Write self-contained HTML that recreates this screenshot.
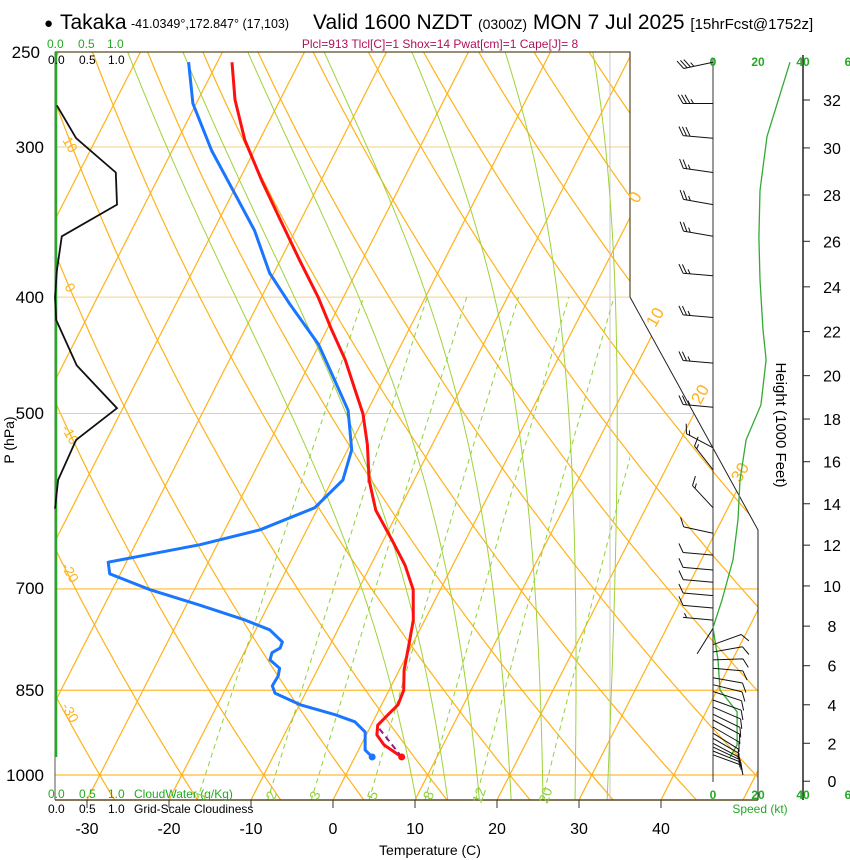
<!DOCTYPE html>
<html><head><meta charset="utf-8"><title>Skew-T Takaka</title>
<style>
html,body{margin:0;padding:0;background:#fff;}
svg{display:block;font-family:"Liberation Sans",Arial,sans-serif;}
</style></head>
<body>
<svg id="chart" width="850" height="860" viewBox="0 0 850 860" xmlns="http://www.w3.org/2000/svg">
  <defs>
    <clipPath id="plotClip"><polygon points="55,52 630,52 630,297 758,530 758,800 55,800"/></clipPath>
    <clipPath id="mainClip"><polygon points="55,52 630,52 630,297 630,800 55,800"/></clipPath>
  </defs>
  <g id="title">
    <text x="44" y="28" font-size="15">●</text>
    <text x="60" y="29" font-size="21">Takaka</text>
    <text x="131" y="28" font-size="12.5">-41.0349°,172.847° (17,103)</text>
    <text x="313" y="29" font-size="21">Valid 1600 NZDT <tspan font-size="14">(0300Z)</tspan> MON 7 Jul 2025 <tspan font-size="15">[15hrFcst@1752z]</tspan></text>
    <text x="440" y="48" font-size="12" fill="#b0125a" text-anchor="middle">Plcl=913 Tlcl[C]=1 Shox=14 Pwat[cm]=1 Cape[J]= 8</text>
  </g>
  <g id="bg"></g>
  <g id="lines" clip-path="url(#plotClip)"></g>
  <g id="mlines" clip-path="url(#mainClip)"></g>
  <g id="frame">
    <polyline points="55,52 630,52 630,297" fill="none" stroke="#5a4a20" stroke-width="1.2"/>
    <polyline points="630,297 758,530 758,800" fill="none" stroke="#222" stroke-width="1"/>
    <line x1="55" y1="800" x2="758" y2="800" stroke="#5a4a20" stroke-width="1.5"/>
    <line x1="55" y1="52" x2="55" y2="800" stroke="#555" stroke-width="1"/>
    <line x1="56" y1="52" x2="56" y2="757" stroke="#22aa22" stroke-width="2.5"/>
    <line x1="713" y1="58" x2="713" y2="782" stroke="#333" stroke-width="1"/>
    <line x1="803" y1="55" x2="803" y2="800" stroke="#222" stroke-width="1.5"/>
  </g>
  <g id="labels" font-size="16">
    <text x="40" y="58" text-anchor="end" font-size="17">250</text>
    <text x="44" y="153" text-anchor="end" font-size="17">300</text>
    <text x="44" y="303" text-anchor="end" font-size="17">400</text>
    <text x="44" y="419" text-anchor="end" font-size="17">500</text>
    <text x="44" y="594" text-anchor="end" font-size="17">700</text>
    <text x="44" y="696" text-anchor="end" font-size="17">850</text>
    <text x="44" y="781" text-anchor="end" font-size="17">1000</text>
    <text transform="translate(14,440) rotate(-90)" text-anchor="middle" font-size="14">P (hPa)</text>
    <text x="430" y="855" text-anchor="middle" font-size="14">Temperature (C)</text>
    <text transform="translate(776,425) rotate(90)" text-anchor="middle" font-size="15">Height (1000 Feet)</text>
    <g font-size="12" fill="#22aa22">
      <text x="47" y="48">0.0</text><text x="78" y="48">0.5</text><text x="107" y="48">1.0</text>
    </g>
    <g font-size="12" fill="#000">
      <text x="48" y="64">0.0</text><text x="79" y="64">0.5</text><text x="108" y="64">1.0</text>
    </g>
    <g font-size="12" fill="#22aa22">
      <text x="48" y="798">0.0</text><text x="79" y="798">0.5</text><text x="108" y="798">1.0</text><text x="134" y="798">CloudWater (g/Kg)</text>
    </g>
    <g font-size="12" fill="#000">
      <text x="48" y="813">0.0</text><text x="79" y="813">0.5</text><text x="108" y="813">1.0</text><text x="134" y="813">Grid-Scale Cloudiness</text>
    </g>
    <g font-size="12" font-weight="bold" fill="#22aa22" text-anchor="middle">
      <text x="713" y="66">0</text><text x="758" y="66">20</text><text x="803" y="66">40</text><text x="848" y="66">6</text>
    </g>
    <g font-size="12" font-weight="bold" fill="#22aa22" text-anchor="middle">
      <text x="713" y="799">0</text><text x="758" y="799">20</text><text x="803" y="799">40</text><text x="848" y="799">6</text>
    </g>
    <text x="760" y="813" font-size="12" fill="#22aa22" text-anchor="middle">Speed (kt)</text>
  </g>
  <g id="dyn"></g>
</svg>
<script>
// ---- data ----
const tempP = [255,274,296,320,345,373,400,426,451,478,500,531,568,602,637,669,701,743,779,818,850,874,891,909,926,944,966];
const tempC = [-58.2,-55.5,-51.8,-47.2,-42.5,-37.6,-33.1,-29.4,-25.9,-22.8,-20.4,-17.9,-15.5,-12.8,-9.0,-5.8,-3.3,-1.4,-0.4,0.6,1.8,2.0,1.4,0.8,1.3,2.8,5.7];
const dewP = [255,276,302,326,352,382,406,438,460,497,536,568,599,625,643,665,680,701,722,743,757,775,784,791,802,815,827,843,855,874,891,903,921,953,966];
const dewC = [-63.5,-60.4,-55.2,-50.1,-45.0,-40.5,-36.0,-30.1,-27.1,-22.4,-19.5,-18.7,-20.4,-25.7,-32.1,-42.2,-41.3,-35.4,-28.4,-21.9,-18.3,-16.0,-15.9,-16.6,-16.4,-14.7,-14.4,-14.5,-13.7,-9.9,-5.0,-2.2,-0.3,0.8,2.1];
const parcelP = [966,912];
const parcelC = [5.7,0.95];
const cloudP = [277,295,315,335,356,380,400,418,456,495,526,568,600];
const cloudFrac = [0.03,0.34,0.98,1.0,0.11,0.03,0,0.02,0.35,1.0,0.34,0.05,0];
const speedP = [255,294,326,357,387,426,451,492,526,568,613,662,715,754,802,850,886,944,966];
const speedKt = [34.2,24,20.9,20.4,20.9,22.2,23.6,21.3,14.7,12,11.1,8.9,4,0,2.2,3.1,10.7,10.7,7.6];
const barbP = [255,276,295,315,335,356,384,416,454,494,534,557,599,629,656,675,691,709,726,743,755,779,790,802,815,830,841,852,866,878,890,900,912,923,932,941,948,955,962];
const barbDir = [258,270,275,278,280,280,275,275,275,275,298,322,317,282,275,275,275,275,275,275,212,70,80,88,95,100,104,108,110,113,116,118,120,122,120,118,115,112,110];
const barbKt = [35,35,30,25,25,25,25,25,25,25,15,15,15,10,10,10,10,10,10,5,2,10,10,10,10,10,10,10,10,10,10,10,10,10,10,10,10,10,10];
const xTicks = [-30,-20,-10,0,10,20,30,40];
const isotherms = [-110,-100,-90,-80,-70,-60,-50,-40,-30,-20,-10,0,10,20,30,40,50];
const thetas = [-40,-30,-20,-10,0,10,20,30,40,50,60,70,80,90,100,110,120,130,140,150,160,170,180];
const thetaW = [8,12,16,20,24,28,32];
const mixRatios = [1,2,3,5,8,12,20];
const heightTicksKft = [0,2,4,6,8,10,12,14,16,18,20,22,24,26,28,30,32];
const isobarsMajor = [700,850,1000];
const isobarsMinor = [300,400,500];

// ---- axis functions ----
function Y(p){ return 775 - 521.6*Math.log(1000/p); }
function X(T,p){ return 333 + 8.2*T + 0.51*(800 - Y(p)); }
function spdX(s){ return 713 + s*45/20; }
function cloudX(f){ return 55 + f*62; }
function zToP(kft){ return 1012*Math.pow(1 - 6.8756e-6*kft*1000, 5.2559); }

const NS='http://www.w3.org/2000/svg';
function mk(parent, tag, attrs, name){
  const el=document.createElementNS(NS,tag);
  for(const k in attrs) el.setAttribute(k,attrs[k]);
  
  
  document.getElementById(parent).appendChild(el);
  return el;
}
function pts(arr){ return arr.map(a=>a[0].toFixed(1)+','+a[1].toFixed(1)).join(' '); }

// isobars
isobarsMajor.forEach(p=>{ mk('lines','line',{x1:55,x2:760,y1:Y(p),y2:Y(p),stroke:'#ffbb33','stroke-width':1.2},'isobar-'+p); });
isobarsMinor.forEach(p=>{ mk('lines','line',{x1:55,x2:760,y1:Y(p),y2:Y(p),stroke:'#f3cf86','stroke-width':1},'isobar-'+p); });
// gray vertical
mk('mlines','line',{x1:610,x2:610,y1:52,y2:800,stroke:'#c8c8c8','stroke-width':1},'reference-vertical');

// isotherms
isotherms.forEach(T=>{
  mk('lines','line',{x1:X(T,1049),y1:Y(1049),x2:X(T,240),y2:Y(240),stroke:'#ffb21a','stroke-width':1.2},'isotherm-'+T);
});
// dry adiabats
thetas.forEach(th=>{
  const a=[];
  for(let p=1060;p>=240;p-=10){ const T=(th+273.15)*Math.pow(p/1000,0.2857)-273.15; a.push([X(T,p),Y(p)]); }
  mk('lines','polyline',{points:pts(a),fill:'none',stroke:'#ffb21a','stroke-width':1.2},'dry-adiabat-'+th);
});
// moist adiabats
function es(Tc){ return 6.112*Math.exp(17.67*Tc/(Tc+243.5)); }
function moistRate(Tk,p){
  const Tc=Tk-273.15, e=es(Tc), rs=0.622*e/(p-e), Lv=2.5e6, Rd=287, cp=1004;
  return (Rd*Tk + Lv*rs)/(p*(cp + Lv*Lv*rs*0.622/(Rd*Tk*Tk)));
}
thetaW.forEach(tw=>{
  const up=[], down=[];
  let T=tw+273.15;
  for(let p=1000;p>=245;p-=2){ up.push([X(T-273.15,p),Y(p)]); T -= moistRate(T,p)*2; }
  T=tw+273.15;
  for(let p=1000;p<=1052;p+=2){ down.unshift([X(T-273.15,p),Y(p)]); T += moistRate(T,p)*2; }
  mk('mlines','polyline',{points:pts(down.concat(up)),fill:'none',stroke:'#9fd23a','stroke-width':1},'moist-adiabat-'+tw);
});
// mixing ratio lines
mixRatios.forEach(w=>{
  const a=[];
  for(let p=1050;p>=400;p-=10){ const e=(w/1000)*p/(0.622+w/1000); const l=Math.log(e/6.112); const Td=243.5*l/(17.67-l); a.push([X(Td,p),Y(p)]); }
  mk('mlines','polyline',{points:pts(a),fill:'none',stroke:'#8fd13a','stroke-width':1,'stroke-dasharray':'5,4'},'mixing-ratio-'+w);
  const e=(w/1000)*1035/(0.622+w/1000); const l=Math.log(e/6.112); const Td=243.5*l/(17.67-l);
  const t=mk('dyn','text',{x:X(Td,1035)+6,y:Y(1035)+4,'font-size':14,fill:'#8fd13a','text-anchor':'middle',transform:'rotate(-70 '+(X(Td,1035)+6)+' '+(Y(1035)+4)+')'},'mixing-ratio-label-'+w);
  t.textContent=String(w);
});
// isotherm labels (right) and theta labels (left)
[[0,200,640],[10,320,660],[20,397,705],[30,475,745]].forEach(d=>{
  const t=mk('dyn','text',{x:d[2],y:d[1],'font-size':17,fill:'#ffb21a','text-anchor':'middle',transform:'rotate(-60 '+d[2]+' '+d[1]+')'},'isotherm-label-'+d[0]);
  t.textContent=String(d[0]);
});
[[10,147],[0,290],[-10,437],[-20,575],[-30,715]].forEach(d=>{
  const t=mk('dyn','text',{x:66,y:d[1],'font-size':14,fill:'#ffb21a','text-anchor':'middle',transform:'rotate(60 66 '+d[1]+')'},'theta-label-'+d[0]);
  t.textContent=String(d[0]);
});

// x ticks
xTicks.forEach(T=>{
  const x=333+8.2*T;
  mk('dyn','line',{x1:x,x2:x,y1:800,y2:808,stroke:'#333','stroke-width':1},'x-tick-'+T);
  const t=mk('dyn','text',{x:x,y:834,'font-size':16,'text-anchor':'middle'},'x-tick-label-'+T);
  t.textContent=String(T);
});
// height ticks
heightTicksKft.forEach(h=>{
  const y=Y(zToP(h));
  mk('dyn','line',{x1:803,x2:810,y1:y,y2:y,stroke:'#222','stroke-width':1},'height-tick-'+h);
  const t=mk('dyn','text',{x:832,y:y+6,'font-size':16,'text-anchor':'middle'},'height-tick-label-'+h);
  t.textContent=String(h);
});

// cloudiness profile
mk('dyn','polyline',{points:pts(cloudP.map((p,i)=>[cloudX(cloudFrac[i]),Y(p)])),fill:'none',stroke:'#111','stroke-width':1.8},'cloudiness-profile');
// wind speed profile
mk('dyn','polyline',{points:pts(speedP.map((p,i)=>[spdX(speedKt[i]),Y(p)])),fill:'none',stroke:'#33aa33','stroke-width':1.3},'wind-speed-profile');
// wind barbs
barbP.forEach((p,i)=>{
  const d=barbDir[i]*Math.PI/180, ux=Math.sin(d), uy=-Math.cos(d);
  const x0=713, y0=Y(p), L=30, x1=x0+ux*L, y1=y0+uy*L;
  let path='M'+x0+','+y0.toFixed(1)+'L'+x1.toFixed(1)+','+y1.toFixed(1);
  const a=Math.PI/3, fx=ux*Math.cos(a)-uy*Math.sin(a), fy=ux*Math.sin(a)+uy*Math.cos(a);
  let s=barbKt[i], k=0;
  while(s>=10){ const bx=x1-ux*k*3.5, by=y1-uy*k*3.5; path+='M'+bx.toFixed(1)+','+by.toFixed(1)+'l'+(fx*10).toFixed(1)+','+(fy*10).toFixed(1); s-=10; k++; }
  if(s>=5){ if(k===0)k=1; const bx=x1-ux*k*3.5, by=y1-uy*k*3.5; path+='M'+bx.toFixed(1)+','+by.toFixed(1)+'l'+(fx*5).toFixed(1)+','+(fy*5).toFixed(1); }
  mk('dyn','path',{d:path,fill:'none',stroke:'#111','stroke-width':1},'wind-barb-'+p);
});

// temperature & dewpoint
mk('dyn','polyline',{points:pts(dewP.map((p,i)=>[X(dewC[i],p),Y(p)])),fill:'none',stroke:'#1a75ff','stroke-width':3,'stroke-linejoin':'round'},'dewpoint-profile');
mk('dyn','polyline',{points:pts(tempP.map((p,i)=>[X(tempC[i],p),Y(p)])),fill:'none',stroke:'#ff1010','stroke-width':3,'stroke-linejoin':'round'},'temperature-profile');
mk('dyn','polyline',{points:pts(parcelP.map((p,i)=>[X(parcelC[i],p),Y(p)])),fill:'none',stroke:'#8b1a8b','stroke-width':2,'stroke-dasharray':'6,4'},'parcel-path');
mk('dyn','circle',{cx:X(tempC[tempC.length-1],tempP[tempP.length-1]),cy:Y(tempP[tempP.length-1]),r:3.5,fill:'#ff1010'},'surface-temperature-dot');
mk('dyn','circle',{cx:X(dewC[dewC.length-1],dewP[dewP.length-1]),cy:Y(dewP[dewP.length-1]),r:3.5,fill:'#1a75ff'},'surface-dewpoint-dot');
</script>
</body></html>
